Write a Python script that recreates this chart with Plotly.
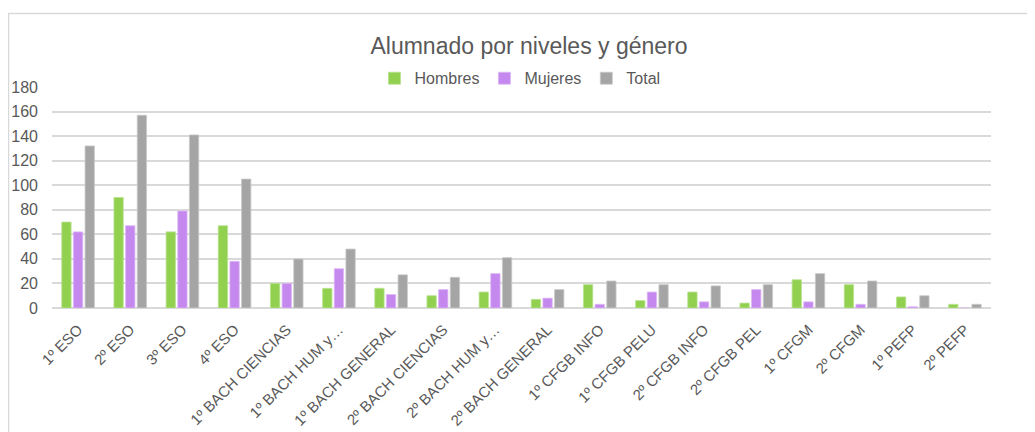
import plotly.graph_objects as go

categorias = ["1º ESO", "2º ESO", "3º ESO", "4º ESO", "1º BACH CIENCIAS", "1º BACH HUM y…",
              "1º BACH GENERAL", "2º BACH CIENCIAS", "2º BACH HUM y…", "2º BACH GENERAL",
              "1º CFGB INFO", "1º CFGB PELU", "2º CFGB INFO", "2º CFGB PEL", "1º CFGM",
              "2º CFGM", "1º PEFP", "2º PEFP"]
hombres = [70, 90, 62, 67, 20, 16, 16, 10, 13, 7, 19, 6, 13, 4, 23, 19, 9, 3]
mujeres = [62, 67, 79, 38, 20, 32, 11, 15, 28, 8, 3, 13, 5, 15, 5, 3, 1, 0]
total = [132, 157, 141, 105, 40, 48, 27, 25, 41, 15, 22, 19, 18, 19, 28, 22, 10, 3]
y_ticks = [0, 20, 40, 60, 80, 100, 120, 140, 160, 180]

# page is drawn with an 8px body margin: work in figure pixels = page pixels - 8
O = 8
W, H = 1035 - O, 432 - O
L, R, T, B = 52 - O, 991 - O, 86.7 - O, 308.3 - O
fam = "Liberation Sans, Arial, sans-serif"
gray_txt = "#595959"

fig = go.Figure()
series = [("Hombres", hombres, "#92D050", "#B7E28F"),
          ("Mujeres", mujeres, "#C588EE", "#DDB8F5"),
          ("Total", total, "#A5A5A5", "#C9C9C9")]
for name, vals, col, edge in series:
    fig.add_trace(go.Bar(x=categorias, y=vals, name=name,
                         marker=dict(color=col, line=dict(color=edge, width=0.8))))

def px_to_paper_x(px):
    return (px - O - L) / (R - L)

def px_to_paper_y(py):
    return (B - (py - O)) / (B - T)

shapes = [
    dict(type="line", xref="paper", yref="paper",
         x0=px_to_paper_x(8.5), x1=px_to_paper_x(8.5),
         y0=px_to_paper_y(13), y1=px_to_paper_y(445),
         line=dict(color="#D9D9D9", width=1.5)),
    dict(type="line", xref="paper", yref="paper",
         x0=px_to_paper_x(8), x1=px_to_paper_x(1045),
         y0=px_to_paper_y(13), y1=px_to_paper_y(13),
         line=dict(color="#D9D9D9", width=1.5)),
]

fig.update_layout(
    width=W, height=H,
    margin=dict(l=L, r=W - R, t=T, b=H - B, pad=0, autoexpand=False),
    paper_bgcolor="white", plot_bgcolor="white",
    barmode="group", bargap=0.33, bargroupgap=0.2,
    title=dict(text="Alumnado por niveles y género", x=(529 - O) / W, xref="container", xanchor="center",
               y=1 - (46 - O) / H, yref="container", yanchor="middle",
               font=dict(family=fam, size=23, color=gray_txt)),
    legend=dict(orientation="h", x=px_to_paper_x(520), xanchor="center", y=px_to_paper_y(78), yanchor="middle",
                font=dict(family=fam, size=16, color=gray_txt), itemwidth=30,
                traceorder="normal", bgcolor="rgba(0,0,0,0)"),
    shapes=shapes,
    font=dict(family=fam, color=gray_txt),
)
fig.update_yaxes(range=[0, 180], tickvals=y_ticks, showgrid=True, gridcolor="#D9D9D9", gridwidth=1.5,
                 zeroline=True, zerolinecolor="#D9D9D9", zerolinewidth=1.5, showline=False,
                 tickfont=dict(family=fam, size=16, color=gray_txt), ticklabelstandoff=13,
                 automargin=False, fixedrange=True)
fig.update_xaxes(tickangle=-45, showgrid=False, showline=False,
                 tickfont=dict(family=fam, size=15, color=gray_txt), ticklabelstandoff=9,
                 automargin=False, fixedrange=True)

fig.write_html("out.html")
